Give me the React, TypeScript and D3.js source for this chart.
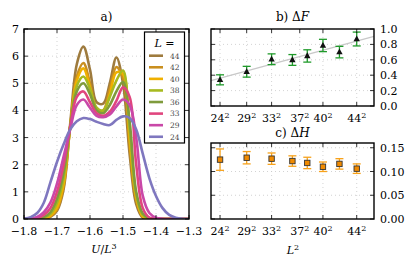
import React from "react";
import * as d3 from "d3";

// panel a) energy histograms
const uGrid = [-1.8, -1.78, -1.76, -1.74, -1.72, -1.7, -1.68, -1.66, -1.64, -1.62, -1.6, -1.58, -1.56,
  -1.54, -1.52, -1.5, -1.48, -1.46, -1.44, -1.42, -1.4, -1.38, -1.36, -1.34, -1.32, -1.3];
const sizes = [44, 42, 40, 38, 36, 33, 29, 24];
const p44 = [0, 0, 0, 0.01, 0.08, 0.3, 1.1, 3.5, 5.7, 6.35, 5.5, 4.3, 4.25, 5.0, 5.95, 5.0, 2.4, 0.55, 0.05, 0, 0, 0, 0, 0, 0, 0];
const p42 = [0, 0, 0, 0.02, 0.1, 0.35, 1.2, 3.4, 5.25, 5.75, 5.0, 4.05, 4.0, 4.8, 5.6, 5.2, 2.7, 0.7, 0.08, 0.01, 0, 0, 0, 0, 0, 0];
const p40 = [0, 0, 0, 0.03, 0.12, 0.42, 1.3, 3.4, 5.1, 5.55, 4.85, 4.0, 3.95, 4.6, 5.4, 5.35, 3.0, 0.8, 0.1, 0.01, 0, 0, 0, 0, 0, 0];
const p38 = [0, 0, 0.01, 0.05, 0.18, 0.6, 1.5, 3.4, 4.9, 5.25, 4.8, 4.1, 4.0, 4.5, 5.1, 5.47, 3.3, 0.9, 0.15, 0.02, 0, 0, 0, 0, 0, 0];
const p36 = [0, 0, 0.02, 0.07, 0.25, 0.75, 1.7, 3.4, 4.7, 5.0, 4.6, 4.0, 3.9, 4.2, 4.7, 5.05, 3.6, 1.0, 0.2, 0.03, 0, 0, 0, 0, 0, 0];
const p33 = [0, 0.01, 0.04, 0.15, 0.4, 1.0, 2.0, 3.4, 4.5, 4.7, 4.3, 3.9, 3.8, 3.95, 4.35, 4.85, 4.5, 2.0, 0.4, 0.05, 0.01, 0, 0, 0, 0, 0];
const p29 = [0, 0.02, 0.08, 0.25, 0.6, 1.3, 2.3, 3.3, 4.2, 4.4, 4.1, 3.8, 3.75, 3.85, 4.15, 4.4, 4.2, 3.0, 0.85, 0.22, 0.05, 0.01, 0, 0, 0, 0];
const p24 = [0.02, 0.07, 0.22, 0.6, 1.35, 2.1, 2.75, 3.3, 3.6, 3.72, 3.68, 3.58, 3.5, 3.46, 3.65, 3.78, 3.72, 3.3, 2.4, 1.5, 0.85, 0.4, 0.15, 0.05, 0.01, 0];
const densities = [p44, p42, p40, p38, p36, p33, p29, p24];
const palette = ["#9e7b3e", "#c98f1f", "#f0b000", "#a7ba20", "#7f9b3c", "#e0467e", "#c948a8", "#7f77bf"];
const uTicks = [-1.8, -1.7, -1.6, -1.5, -1.4, -1.3];
const pTicks = [0, 1, 2, 3, 4, 5, 6, 7];

// panels b) and c)
const Ls = [24, 29, 33, 36, 38, 40, 42, 44];
const dF = [0.34, 0.445, 0.607, 0.598, 0.65, 0.786, 0.7, 0.87];
const dFErr = [0.065, 0.07, 0.07, 0.07, 0.08, 0.08, 0.075, 0.09];
const dH = [0.125, 0.129, 0.127, 0.122, 0.118, 0.11, 0.116, 0.106];
const dHErr = [0.0225, 0.013, 0.012, 0.011, 0.012, 0.01, 0.011, 0.01];
const lTicks = [24, 29, 33, 37, 40, 44];
const fTicks = [0, 0.2, 0.4, 0.6, 0.8, 1.0];
const hTicks = [0, 0.05, 0.1, 0.15];

const font = "DejaVu Serif";
const fs = 11;
const minus = (s: string) => s.replace("-", "\u2212");

function Frame({ x0, x1, y0, y1 }: { x0: number; x1: number; y0: number; y1: number }) {
  return <rect x={x0} y={y0} width={x1 - x0} height={y1 - y0} fill="none" stroke="#000" strokeWidth={1.4} />;
}

function Sq({ b }: { b: number }) {
  return <tspan dy={-4.5} fontSize={8}>{b}</tspan>;
}

export default function App() {
  // panel a
  const xa = d3.scaleLinear([-1.8, -1.3], [24, 189]);
  const ya = d3.scaleLinear([0, 7], [219, 29]);
  const line = d3.line<number>().x((d, i) => xa(uGrid[i])).y((d) => ya(d)).curve(d3.curveCatmullRom);

  // panels b, c share the x scale
  const xb = d3.scaleLinear([486, 2108], [211, 374]);
  const yb = d3.scaleLinear([0, 1], [106, 29]);
  const yc = d3.scaleLinear([0, 0.16], [219, 143]);
  const L2 = Ls.map((l) => l * l);

  // least squares fit of dF vs L^2
  const mx = d3.mean(L2)!;
  const my = d3.mean(dF)!;
  const slope = d3.sum(L2, (v, i) => (v - mx) * (dF[i] - my)) / d3.sum(L2, (v) => (v - mx) ** 2);
  const fit = (v: number) => my + slope * (v - mx);
  const [dx0, dx1] = xb.domain();

  const grid = { stroke: "#c8c8c8", strokeWidth: 0.8, strokeDasharray: "1,3" };
  const tk = { stroke: "#000", strokeWidth: 0.8 };

  const lTickLabels = (yy: number) =>
    lTicks.map((l) => (
      <text key={l} x={xb(l * l)} y={yy} textAnchor="middle">
        {l}
        <Sq b={2} />
      </text>
    ));

  const vTicks = (xs: number[], y0: number, y1: number) =>
    xs.map((v, i) => (
      <g key={i}>
        <line x1={v} x2={v} y1={y0} y2={y0 - 4} {...tk} />
        <line x1={v} x2={v} y1={y1} y2={y1 + 4} {...tk} />
      </g>
    ));
  const hTicksAt = (ys: number[], x0: number, x1: number) =>
    ys.map((v, i) => (
      <g key={i}>
        <line x1={x0} x2={x0 + 4} y1={v} y2={v} {...tk} />
        <line x1={x1} x2={x1 - 4} y1={v} y2={v} {...tk} />
      </g>
    ));

  return (
    <svg width={415} height={266} style={{ position: "absolute", left: 0, top: 0, background: "#fff" }}
      fontFamily={font} fontSize={fs}>
      <defs>
        <clipPath id="clipA">
          <rect x={24} y={29} width={165} height={190} />
        </clipPath>
      </defs>

      {/* ---------- panel a ---------- */}
      <text x={106.5} y={21} textAnchor="middle" fontSize={12}>a)</text>
      {uTicks.slice(1, -1).map((u) => (
        <line key={u} x1={xa(u)} x2={xa(u)} y1={29} y2={219} {...grid} />
      ))}
      {pTicks.slice(1, -1).map((p) => (
        <line key={p} x1={24} x2={189} y1={ya(p)} y2={ya(p)} {...grid} />
      ))}
      <g clipPath="url(#clipA)">
        {densities.map((d, i) => (
          <path key={sizes[i]} d={line(d)!} fill="none" stroke={palette[i]} strokeWidth={2.6}
            strokeLinejoin="round" />
        ))}
      </g>
      {vTicks(uTicks.map((u) => xa(u)), 219, 29)}
      {hTicksAt(pTicks.map((p) => ya(p)), 24, 189)}
      <Frame x0={24} x1={189} y0={29} y1={219} />
      {pTicks.map((p) => (
        <text key={p} x={19} y={ya(p) + 4} textAnchor="end">{p}</text>
      ))}
      {uTicks.map((u) => (
        <text key={u} x={xa(u)} y={235} textAnchor="middle">{minus(d3.format(".1f")(u))}</text>
      ))}
      <text x={104} y={253} textAnchor="middle">
        <tspan fontStyle="italic">U</tspan>/<tspan fontStyle="italic">L</tspan>
        <tspan dy={-4.5} fontSize={8}>3</tspan>
      </text>

      {/* legend */}
      <rect x={144.5} y={32} width={40} height={111} fill="#fff" stroke="#000" strokeWidth={1.2} />
      <text x={164.5} y={47} textAnchor="middle" fontSize={11}>
        <tspan fontStyle="italic">L</tspan> =
      </text>
      {sizes.map((s, i) => (
        <g key={s}>
          <line x1={149} x2={163} y1={55.7 + i * 11.58} y2={55.7 + i * 11.58} stroke={palette[i]} strokeWidth={2.6} />
          <text x={170} y={58.5 + i * 11.58} fontSize={7.5} fill="#444">{s}</text>
        </g>
      ))}

      {/* ---------- panel b ---------- */}
      <text x={292.5} y={21} textAnchor="middle" fontSize={12}>
        b) Δ<tspan fontStyle="italic">F</tspan>
      </text>
      {lTicks.map((l) => (
        <line key={l} x1={xb(l * l)} x2={xb(l * l)} y1={29} y2={106} {...grid} />
      ))}
      {fTicks.slice(1, -1).map((f) => (
        <line key={f} x1={211} x2={374} y1={yb(f)} y2={yb(f)} {...grid} />
      ))}
      <line x1={xb(dx0)} x2={xb(dx1)} y1={yb(fit(dx0))} y2={yb(fit(dx1))} stroke="#c8c8c8" strokeWidth={1.3} />
      {L2.map((v, i) => {
        const cx = xb(v);
        const top = yb(dF[i] + dFErr[i]);
        const bot = yb(dF[i] - dFErr[i]);
        const cy = yb(dF[i]);
        return (
          <g key={v}>
            <line x1={cx} x2={cx} y1={top} y2={bot} stroke="#1f9a2a" strokeWidth={1.3} />
            <line x1={cx - 4} x2={cx + 4} y1={top} y2={top} stroke="#1f9a2a" strokeWidth={1.3} />
            <line x1={cx - 4} x2={cx + 4} y1={bot} y2={bot} stroke="#1f9a2a" strokeWidth={1.3} />
            <path d={`M${cx},${cy - 3.6}L${cx + 3.2},${cy + 2.2}L${cx - 3.2},${cy + 2.2}Z`} fill="#111" />
          </g>
        );
      })}
      {vTicks(lTicks.map((l) => xb(l * l)), 106, 29)}
      {hTicksAt(fTicks.map((f) => yb(f)), 211, 374)}
      <Frame x0={211} x1={374} y0={29} y1={106} />
      {fTicks.map((f) => (
        <text key={f} x={380} y={yb(f) + 4}>{d3.format(".1f")(f)}</text>
      ))}
      {lTickLabels(122)}

      {/* ---------- panel c ---------- */}
      <text x={292.5} y={137} textAnchor="middle" fontSize={12}>
        c) Δ<tspan fontStyle="italic">H</tspan>
      </text>
      {lTicks.map((l) => (
        <line key={l} x1={xb(l * l)} x2={xb(l * l)} y1={143} y2={219} {...grid} />
      ))}
      {hTicks.slice(1).map((h) => (
        <line key={h} x1={211} x2={374} y1={yc(h)} y2={yc(h)} {...grid} />
      ))}
      {L2.map((v, i) => {
        const cx = xb(v);
        const top = yc(dH[i] + dHErr[i]);
        const bot = yc(dH[i] - dHErr[i]);
        const cy = yc(dH[i]);
        return (
          <g key={v}>
            <line x1={cx} x2={cx} y1={top} y2={bot} stroke="#f7a21b" strokeWidth={1.3} />
            <line x1={cx - 4} x2={cx + 4} y1={top} y2={top} stroke="#f7a21b" strokeWidth={1.3} />
            <line x1={cx - 4} x2={cx + 4} y1={bot} y2={bot} stroke="#f7a21b" strokeWidth={1.3} />
            <rect x={cx - 2.7} y={cy - 2.7} width={5.4} height={5.4} fill="#f08a00" stroke="#333" strokeWidth={0.9} />
          </g>
        );
      })}
      {vTicks(lTicks.map((l) => xb(l * l)), 219, 143)}
      {hTicksAt(hTicks.map((h) => yc(h)), 211, 374)}
      <Frame x0={211} x1={374} y0={143} y1={219} />
      {hTicks.map((h) => (
        <text key={h} x={380} y={yc(h) + 4}>{d3.format(".2f")(h)}</text>
      ))}
      {lTickLabels(235)}
      <text x={293} y={254} textAnchor="middle">
        <tspan fontStyle="italic">L</tspan>
        <tspan dy={-4.5} fontSize={8}>2</tspan>
      </text>
    </svg>
  );
}
